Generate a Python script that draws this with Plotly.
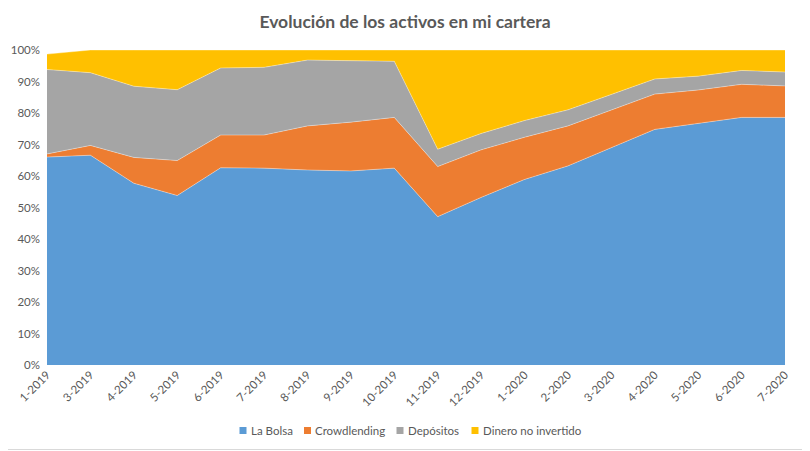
import plotly.graph_objects as go

categories = ["1-2019", "3-2019", "4-2019", "5-2019", "6-2019", "7-2019", "8-2019", "9-2019",
              "10-2019", "11-2019", "12-2019", "1-2020", "2-2020", "3-2020", "4-2020", "5-2020",
              "6-2020", "7-2020"]

# layer values (percent)
la_bolsa = [66.0, 66.6, 57.7, 53.8, 62.6, 62.5, 61.9, 61.6, 62.5, 47.1, 53.2, 58.9, 63.2, 69.1, 74.8, 76.7, 78.6, 78.6]
crowdlending = [1.0, 3.1, 8.2, 11.1, 10.4, 10.5, 14.0, 15.5, 16.1, 15.9, 15.1, 13.4, 12.7, 11.9, 11.2, 10.6, 10.5, 10.0]
depositos = [26.8, 23.1, 22.6, 22.5, 21.3, 21.5, 20.9, 19.5, 17.8, 5.5, 5.2, 5.3, 5.1, 4.9, 4.8, 4.4, 4.4, 4.4]
dinero_no_invertido = [4.9, 7.2, 11.5, 12.6, 5.7, 5.5, 3.2, 3.4, 3.6, 31.5, 26.5, 22.4, 19.0, 14.1, 9.2, 8.3, 6.5, 7.0]

series_names = ["La Bolsa", "Crowdlending", "Depósitos", "Dinero no invertido"]
series_values = [la_bolsa, crowdlending, depositos, dinero_no_invertido]
colors = ["#5B9BD5", "#ED7D31", "#A5A5A5", "#FFC000"]

FONT = "Lato"
TXT = "#595959"

# page is rendered with the browser's default 8px body margin
OFF = 8
PAGE_W, PAGE_H = 810, 451
W, H = PAGE_W - OFF, PAGE_H - OFF
# plot area in page pixels
PX0, PX1, PY0, PY1 = 47, 785, 50, 365
L, T = PX0 - OFF, PY0 - OFF
R, B = W - (PX1 - OFF), H - (PY1 - OFF)
pw, ph = W - L - R, H - T - B


def px_x(px):  # page pixel -> paper x
    return (px - OFF - L) / pw


def px_y(py):  # page pixel -> paper y
    return (H - B - (py - OFF)) / ph


fig = go.Figure()
for name, vals, col in zip(series_names, series_values, colors):
    fig.add_trace(go.Scatter(
        x=categories, y=vals, name=name, mode="lines",
        stackgroup="one", line=dict(width=0.6, color="rgba(255,255,255,0.6)"),
        fillcolor=col, showlegend=False, hoverinfo="x+y+name"))

# legend drawn as squares + text (Excel-like compact spacing)
legend_marker_x = [239.5, 304, 396.5, 471.5]
legend_y = 430.5
shapes = [
    dict(type="line", xref="paper", yref="paper",
         x0=px_x(808.5), x1=px_x(808.5), y0=px_y(450), y1=px_y(8),
         line=dict(color="#D9D9D9", width=1)),
    dict(type="line", xref="paper", yref="paper",
         x0=px_x(8), x1=px_x(808.5), y0=px_y(449.5), y1=px_y(449.5),
         line=dict(color="#D9D9D9", width=1)),
]
annotations = []
for name, col, mx in zip(series_names, colors, legend_marker_x):
    shapes.append(dict(type="rect", xref="paper", yref="paper",
                       x0=px_x(mx), x1=px_x(mx + 7),
                       y0=px_y(legend_y + 3.5), y1=px_y(legend_y - 3.5),
                       fillcolor=col, line=dict(width=0)))
    annotations.append(dict(text=name, xref="paper", yref="paper",
                            x=px_x(mx + 9), y=px_y(legend_y), xanchor="left",
                            yanchor="middle", showarrow=False,
                            font=dict(family=FONT, size=11.5, color=TXT)))

fig.update_layout(
    width=W, height=H,
    margin=dict(l=L, r=R, t=T, b=B, autoexpand=False),
    paper_bgcolor="white", plot_bgcolor="white",
    font=dict(family=FONT, size=12, color=TXT),
    showlegend=False,
    title=dict(text="<b>Evolución de los activos en mi cartera</b>",
               x=(405 - OFF) / W, xanchor="center", y=1 - (22 - OFF) / H, yanchor="middle",
               font=dict(family=FONT, size=17.5, color=TXT)),
    xaxis=dict(type="category", range=[0, len(categories) - 1], tickangle=-45,
               showgrid=False, showline=False, zeroline=False, ticks="",
               automargin=False,
               tickfont=dict(family=FONT, size=11.5, color=TXT)),
    yaxis=dict(range=[0, 100], dtick=10, ticksuffix="%", showgrid=True,
               gridcolor="#D9D9D9", gridwidth=1, zeroline=False, showline=False,
               automargin=False, ticklabelstandoff=6,
               tickfont=dict(family=FONT, size=11.5, color=TXT)),
    shapes=shapes,
    annotations=annotations,
)

fig.write_html("out.html")
